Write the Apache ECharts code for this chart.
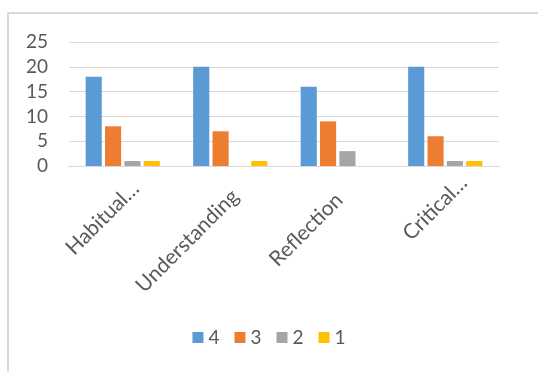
<!DOCTYPE html>
<html>
<head>
<meta charset="utf-8">
<script src="https://cdn.jsdelivr.net/npm/echarts@6/dist/echarts.min.js"></script>
<style>
  html, body { margin: 0; padding: 0; background: #fff; }
  #chart { width: 538px; height: 372px; }
</style>
</head>
<body>
<div id="chart"></div>
<script>
// Categories and per-rating counts
const categories = ['Habitual…', 'Understanding', 'Reflection', 'Critical…'];
const seriesNames = ['4', '3', '2', '1'];
const rating4 = [18, 20, 16, 20];
const rating3 = [8, 7, 9, 6];
const rating2 = [1, 0, 3, 1];
const rating1 = [1, 1, 0, 1];
const yTicks = [0, 5, 10, 15, 20, 25];

const colors = ['#5B9BD5', '#ED7D31', '#A5A5A5', '#FFC000'];
const values = [rating4, rating3, rating2, rating1];
const textColor = '#595959';
const fontFamily = 'Lato, "Open Sans", sans-serif';

// Slide each rotated label along its own direction
const labelShift = [18, 7, 2, 26];

const chart = echarts.init(document.getElementById('chart'));
chart.setOption({
  animation: false,
  color: colors,
  textStyle: { fontFamily: fontFamily },
  graphic: [{
    type: 'rect',
    shape: { x: 8, y: 13, width: 700, height: 500 },
    style: { fill: 'none', stroke: '#D9D9D9', lineWidth: 2 },
    silent: true
  }],
  grid: { left: 69, right: 39, top: 42, bottom: 206, containLabel: false },
  legend: {
    bottom: 20,
    left: 'center',
    itemWidth: 11,
    itemHeight: 11,
    itemGap: 15,
    icon: 'rect',
    textStyle: { color: textColor, fontSize: 19, fontFamily: fontFamily },
    data: seriesNames
  },
  xAxis: {
    type: 'category',
    data: categories.map((c, i) => ({
      value: c,
      textStyle: { padding: [0, -labelShift[i], 0, 0] }
    })),
    axisLine: { lineStyle: { color: '#D9D9D9', width: 1 } },
    axisTick: { show: false },
    axisLabel: {
      rotate: 45,
      interval: 0,
      margin: 32,
      color: textColor,
      fontSize: 21,
      fontFamily: fontFamily
    }
  },
  yAxis: {
    type: 'value',
    min: yTicks[0],
    max: yTicks[yTicks.length - 1],
    interval: 5,
    axisLine: { show: false },
    axisTick: { show: false },
    splitLine: { lineStyle: { color: '#D9D9D9', width: 1 } },
    axisLabel: { color: textColor, fontSize: 19, margin: 21, fontFamily: fontFamily }
  },
  series: seriesNames.map((name, i) => ({
    name: name,
    type: 'bar',
    data: values[i],
    barGap: '20%',
    barCategoryGap: '31%',
    itemStyle: { color: colors[i] }
  }))
});
</script>
</body>
</html>
